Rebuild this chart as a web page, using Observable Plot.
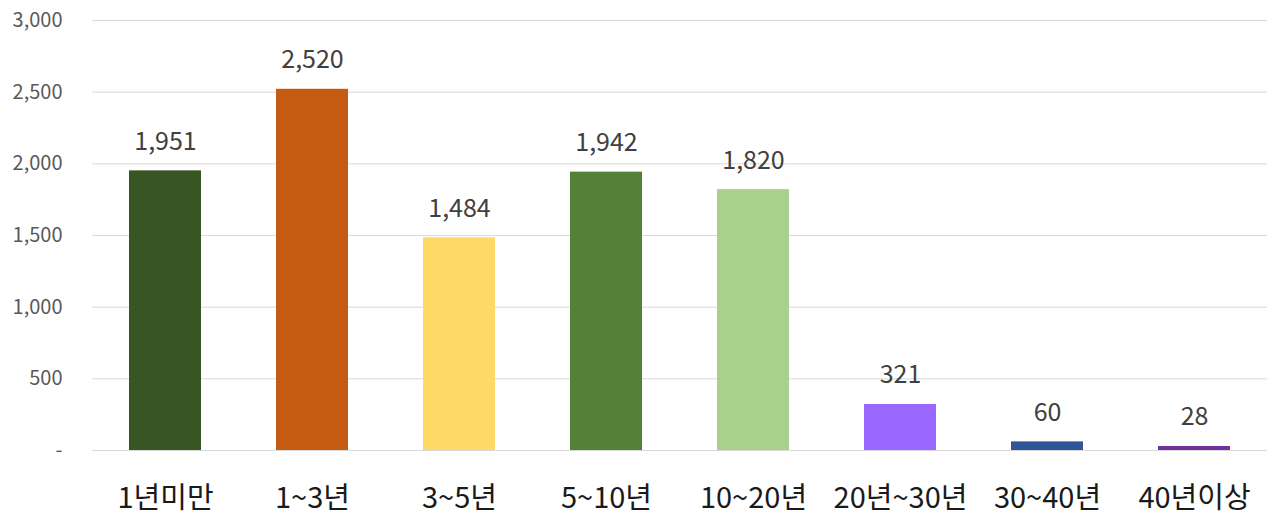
<!DOCTYPE html>
<html><head><meta charset="utf-8">
<script src="https://cdn.jsdelivr.net/npm/d3@7"></script>
<script src="https://cdn.jsdelivr.net/npm/@observablehq/plot@0.6"></script>
<style>
body{margin:0;background:#fff;font-family:"Noto Sans CJK KR","Noto Sans",sans-serif;}
</style></head>
<body><div id="chart"></div>
<script>
const categories = ["1년미만","1~3년","3~5년","5~10년","10~20년","20년~30년","30~40년","40년이상"];
const values = [1951,2520,1484,1942,1820,321,60,28];
const colors = ["#375623","#C55A11","#FFD966","#538135","#A9D18E","#9966FF","#2F5597","#7030A0"];
const yTicks = [0,500,1000,1500,2000,2500,3000];

const data = categories.map((c,i)=>({cat:c, value:values[i], color:colors[i]}));
const fmt = d3.format(",");

const chart = Plot.plot({
  width: 1271, height: 517,
  marginTop: 20, marginBottom: 67, marginLeft: 92, marginRight: 4,
  style: {fontFamily: '"Noto Sans CJK KR","Noto Sans",sans-serif', background: "#fff"},
  x: {domain: categories, paddingInner: 0.51, paddingOuter: 0.23, label: null},
  y: {domain: [0,3000], label: null},
  marks: [
    Plot.gridY(yTicks, {stroke: "#d9d9d9", strokeOpacity: 1, strokeWidth: 1}),
    Plot.axisY(yTicks, {tickSize: 0, tickPadding: 30, fontSize: 20, fill: "#595959",
      tickFormat: d => d === 0 ? "-" : fmt(d)}),
    Plot.axisX({tickSize: 0, tickPadding: 37, fontSize: 29, fill: "#1a1a1a"}),
    Plot.barY(data, {x: "cat", y: "value", fill: "color"}),
    Plot.text(data, {x: "cat", y: "value", text: d => fmt(d.value), dy: -29, fontSize: 25, fill: "#404040"})
  ]
});
document.getElementById("chart").appendChild(chart);
</script></body></html>
